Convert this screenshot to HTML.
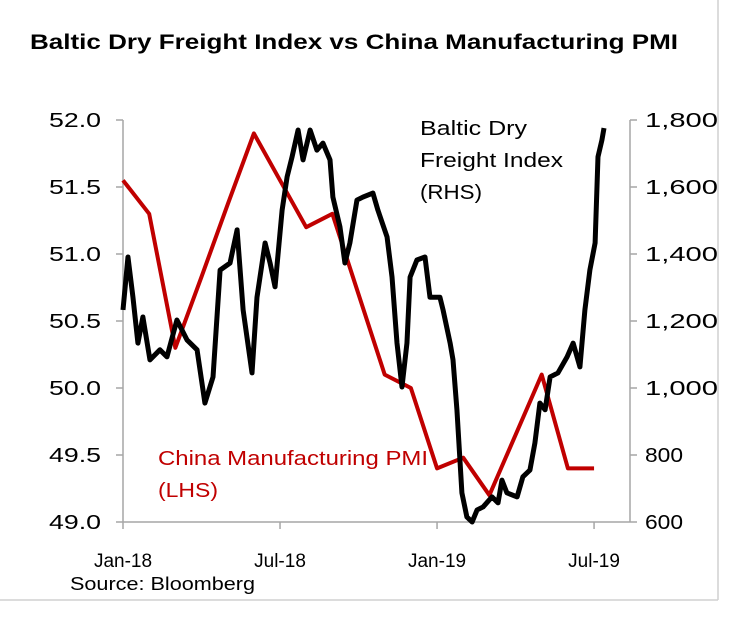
<!DOCTYPE html>
<html><head><meta charset="utf-8"><style>
body{margin:0;background:#fff;}
svg{display:block;font-family:"Liberation Sans",Calibri,sans-serif;}
</style></head><body>
<svg id="chart" width="737" height="633">
<line x1="718" y1="0" x2="718" y2="600" stroke="#d0d0d0" stroke-width="1.5"/>
<line x1="0" y1="600" x2="718" y2="600" stroke="#d0d0d0" stroke-width="1.5"/>
<text x="30" y="49" font-size="21" font-weight="bold" fill="#000" textLength="648" lengthAdjust="spacingAndGlyphs">Baltic Dry Freight Index vs China Manufacturing  PMI</text>
<g id="axes"></g>
<g id="series"></g>
<text x="420" y="135" font-size="20" fill="#000" textLength="107" lengthAdjust="spacingAndGlyphs">Baltic Dry</text>
<text x="420" y="167" font-size="20" fill="#000" textLength="143" lengthAdjust="spacingAndGlyphs">Freight Index</text>
<text x="420" y="199" font-size="20" fill="#000" textLength="62" lengthAdjust="spacingAndGlyphs">(RHS)</text>
<text x="158" y="465" font-size="20" fill="#c00000" textLength="270" lengthAdjust="spacingAndGlyphs">China Manufacturing  PMI</text>
<text x="158" y="497" font-size="20" fill="#c00000" textLength="60" lengthAdjust="spacingAndGlyphs">(LHS)</text>
<text x="70" y="590" font-size="18" fill="#000" textLength="185" lengthAdjust="spacingAndGlyphs">Source: Bloomberg</text>
</svg>
<script>
const pmiMonths=[0,1,2,3,4,5,6,7,8,9,10,11,12,13,14,15,16,17,18];
const pmiValues=[51.55,51.3,50.3,50.83,51.37,51.9,51.55,51.2,51.3,50.7,50.1,50.0,49.4,49.48,49.2,49.65,50.1,49.4,49.4];
const bdiMonths=[0,.19,.38,.57,.76,1.03,1.41,1.68,2.06,2.45,2.83,3.13,3.44,3.71,4.09,4.36,4.59,4.93,5.12,5.43,5.62,5.81,6.08,6.27,6.46,6.69,6.88,7.15,7.41,7.64,7.91,8.02,8.29,8.48,8.67,8.94,9.17,9.55,9.74,10.09,10.28,10.47,10.66,10.85,10.97,11.23,11.54,11.73,12.11,12.23,12.50,12.61,12.76,12.95,13.14,13.34,13.53,13.76,14.10,14.33,14.48,14.67,15.06,15.28,15.55,15.74,15.93,16.13,16.32,16.62,16.97,17.20,17.46,17.65,17.84,18.04,18.15,18.30,18.38];
const bdiValues=[1233,1391,1271,1134,1212,1084,1114,1093,1203,1143,1114,955,1033,1352,1373,1472,1233,1045,1271,1433,1373,1302,1531,1630,1690,1770,1681,1770,1710,1731,1681,1570,1481,1373,1433,1561,1570,1582,1531,1451,1331,1134,1003,1134,1331,1382,1391,1271,1271,1233,1134,1084,935,687,615,600,636,645,675,657,725,687,675,735,755,836,955,935,1033,1045,1093,1134,1063,1233,1352,1433,1690,1740,1776];
const leftTicks=[52.0,51.5,51.0,50.5,50.0,49.5,49.0];
const rightTicks=[1800,1600,1400,1200,1000,800,600];
const rightTickLabels=["1,800","1,600","1,400","1,200","1,000","800","600"];
const xTickMonths=[0,6,12,18];
const xTickLabels=["Jan-18","Jul-18","Jan-19","Jul-19"];

const NS="http://www.w3.org/2000/svg";
const X0=123,X1=630,Y0=120,Y1=522;
const xs=m=>X0+m*26.17;
const yl=v=>Y1-(v-49)/3*(Y1-Y0);
const yr=v=>Y1-(v-600)/1200*(Y1-Y0);
const axes=document.getElementById('axes'),series=document.getElementById('series');
function mk(tag,attrs,parent){const e=document.createElementNS(NS,tag);for(const k in attrs)e.setAttribute(k,attrs[k]);parent.appendChild(e);return e;}
const G="#a6a6a6";
let e;
e=mk('line',{x1:X0,y1:Y0,x2:X0,y2:Y1,stroke:G,'stroke-width':1.5},axes);


e=mk('line',{x1:X1,y1:Y0,x2:X1,y2:Y1,stroke:G,'stroke-width':1.5},axes);


e=mk('line',{x1:X0,y1:Y1,x2:X1,y2:Y1,stroke:G,'stroke-width':1.5},axes);


leftTicks.forEach(v=>{const y=yl(v);
 e=mk('line',{x1:X0-7,y1:y,x2:X0,y2:y,stroke:G,'stroke-width':1.5},axes);
 
 
 e=mk('text',{x:101,y:y+7,'font-size':20,'text-anchor':'end',fill:'#000',textLength:52,lengthAdjust:'spacingAndGlyphs'},axes);e.textContent=v.toFixed(1);
 
 
});
rightTicks.forEach((v,i)=>{const y=yr(v);
 e=mk('line',{x1:X1,y1:y,x2:X1+7,y2:y,stroke:G,'stroke-width':1.5},axes);
 
 
 const lab=rightTickLabels[i];
 e=mk('text',{x:645,y:y+7,'font-size':20,fill:'#000',textLength:lab.length>3?73:38,lengthAdjust:'spacingAndGlyphs'},axes);e.textContent=lab;
 
 
});
xTickMonths.forEach((m,i)=>{const x=xs(m);
 e=mk('line',{x1:x,y1:Y1,x2:x,y2:Y1+7,stroke:G,'stroke-width':1.5},axes);
 
 
 e=mk('text',{x:x,y:567,'font-size':19,'text-anchor':'middle',fill:'#000'},axes);e.textContent=xTickLabels[i];
 
 
});
e=mk('polyline',{points:pmiMonths.map((m,i)=>xs(m)+','+yl(pmiValues[i])).join(' '),fill:'none',stroke:'#c00000','stroke-width':4,'stroke-linejoin':'round'},series);


e=mk('polyline',{points:bdiMonths.map((m,i)=>xs(m)+','+yr(bdiValues[i])).join(' '),fill:'none',stroke:'#000','stroke-width':5,'stroke-linejoin':'round'},series);


</script>
</body></html>
